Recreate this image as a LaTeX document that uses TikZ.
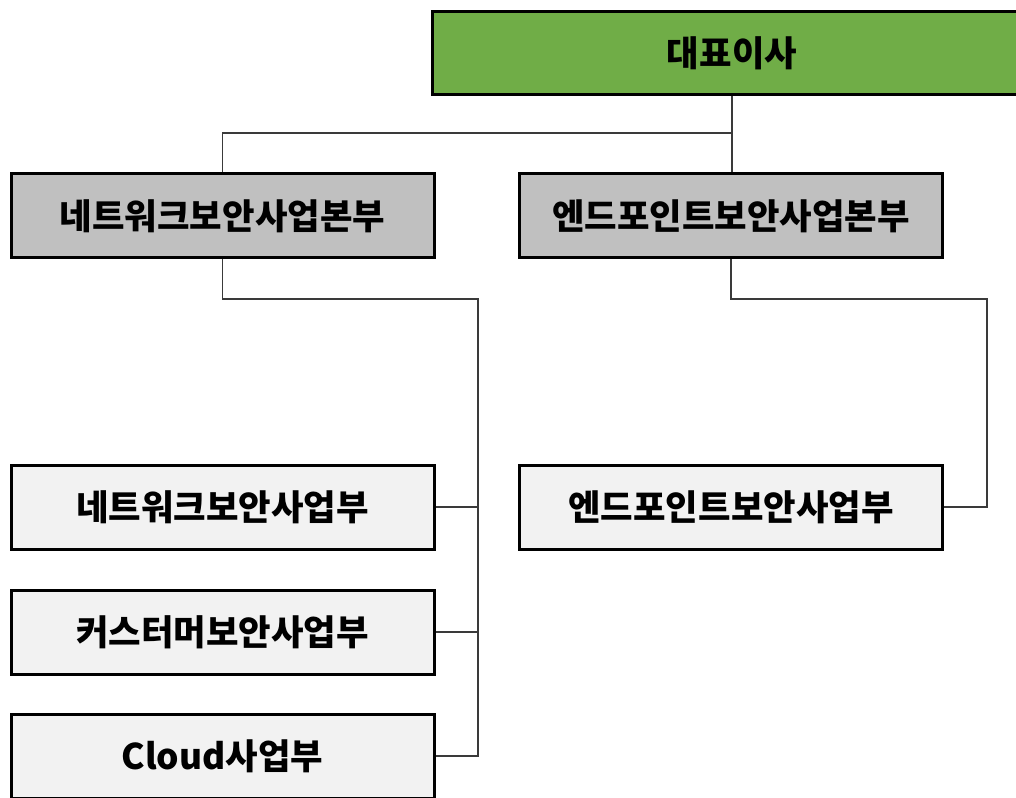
\documentclass[tikz,border=0pt]{standalone}
\usepackage{fontspec}
\newfontfamily\krfont{Noto Sans CJK KR}
\definecolor{ceogreen}{HTML}{70AD47}
\definecolor{divgray}{HTML}{C0C0C0}
\definecolor{deptgray}{HTML}{F2F2F2}
\definecolor{connline}{HTML}{3A3A3A}
\tikzset{
  orgbox/.style={draw=black, line width=2.25pt, inner sep=0pt,
    minimum width=317.25pt, minimum height=63pt,
    font=\krfont\bfseries\fontsize{26.5}{30}\selectfont, text=black},
  ceobox/.style={orgbox, fill=ceogreen, minimum width=450pt, minimum height=62.25pt},
  divbox/.style={orgbox, fill=divgray},
  deptbox/.style={orgbox, fill=deptgray},
  conn/.style={draw=connline, line width=1.1pt}
}
\begin{document}
\begin{tikzpicture}[x=0.75pt,y=-0.75pt]
\useasboundingbox (0,0) rectangle (1016,798);
\clip (0,0) rectangle (1016,798);
\fill[white] (0,0) rectangle (1016,798);

\node[ceobox] (ceo) at (732,53) {대표이사};
\node[divbox] (nb1) at (222.5,216) {네트워크보안사업본부};
\node[divbox] (nb2) at (731,216) {엔드포인트보안사업본부};
\node[deptbox] (d1) at (222.5,507) {네트워크보안사업부};
\node[deptbox] (d2) at (222.5,632) {커스터머보안사업부};
\node[deptbox] (d3) at (222.5,756) {Cloud사업부};
\node[deptbox] (d4) at (731,507) {엔드포인트보안사업부};

\coordinate (top) at (732,133);
\coordinate (bus1) at (478,299);
\coordinate (bus2) at (987,299);

\draw[conn] (ceo.south) -- (ceo.south |- nb2.north);
\draw[conn] (top) -| (nb1.north);
\draw[conn] (nb1.south) |- (bus1) -- (bus1 |- d3.east) -- (d3.east);
\draw[conn] (d1.east) -- (d1.east -| bus1);
\draw[conn] (d2.east) -- (d2.east -| bus1);
\draw[conn] (nb2.south) |- (bus2) |- (d4.east);
\end{tikzpicture}
\end{document}
